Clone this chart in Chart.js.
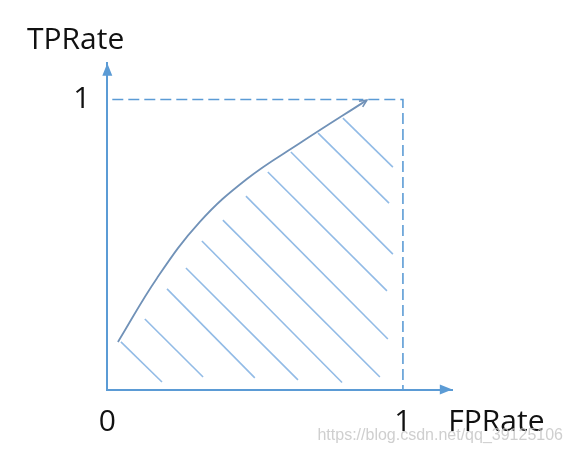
<!DOCTYPE html>
<html>
<head>
<meta charset="utf-8">
<script src="https://cdn.jsdelivr.net/npm/chart.js@4/dist/chart.umd.min.js"></script>
<style>
html, body { margin: 0; padding: 0; background: #ffffff; }
#wrap { width: 573px; height: 454px; position: relative; }
</style>
</head>
<body>
<div id="wrap"><canvas id="c"></canvas></div>
<script>
// ---- data ----
const X_TITLE = 'FPRate';
const Y_TITLE = 'TPRate';
const X_TICKS = [0, 1];
const X_TICK_LABELS = ['0', '1'];
const Y_TICKS = [1];
const Y_TICK_LABELS = ['1'];
const X_AXIS_END = 1.167;   // where the x arrow tip sits
const Y_AXIS_END = 1.125;   // where the y arrow tip sits

// ROC curve (FPRate, TPRate)
const CURVE_X = [0.036, 0.168, 0.313, 0.472, 0.652, 0.878];
const CURVE_Y = [0.164, 0.384, 0.578, 0.726, 0.850, 0.998];

// hatching under the curve (start / end of each stroke)
const HATCH_X0 = [0.046, 0.127, 0.202, 0.266, 0.320, 0.391, 0.469, 0.543, 0.621, 0.713, 0.797];
const HATCH_Y0 = [0.164, 0.243, 0.347, 0.419, 0.512, 0.584, 0.667, 0.750, 0.819, 0.884, 0.936];
const HATCH_X1 = [0.185, 0.324, 0.499, 0.645, 0.794, 0.922, 0.949, 0.946, 0.966, 0.953, 0.966];
const HATCH_Y1 = [0.026, 0.043, 0.040, 0.033, 0.024, 0.043, 0.174, 0.340, 0.467, 0.643, 0.767];

// dashed unit square boundary
const FRAME_X = [0, 1, 1];
const FRAME_Y = [1, 1, 0];

const WATERMARK = 'https://blog.csdn.net/qq_39125106';

// ---- styles ----
const AXIS_COLOR = '#5B9BD5';
const CURVE_COLOR = '#7192B8';
const HATCH_COLOR = '#92BBE6';
const TEXT_COLOR = '#111111';
const FONT = "'Open Sans', 'Noto Sans', sans-serif";

const pts = (xs, ys) => xs.map((x, i) => ({ x: x, y: ys[i] }));

const datasets = [];
HATCH_X0.forEach((_, i) => {
  datasets.push({
    data: [{ x: HATCH_X0[i], y: HATCH_Y0[i] }, { x: HATCH_X1[i], y: HATCH_Y1[i] }],
    borderColor: HATCH_COLOR, borderWidth: 1.6, pointRadius: 0, tension: 0
  });
});
datasets.push({
  data: pts(FRAME_X, FRAME_Y),
  borderColor: AXIS_COLOR, borderWidth: 1.6, borderDash: [11, 5], borderDashOffset: 11,
  pointRadius: 0, tension: 0
});
datasets.push({
  data: pts(CURVE_X, CURVE_Y),
  borderColor: CURVE_COLOR, borderWidth: 1.8, pointRadius: 0,
  tension: 0.4
});
const CURVE_INDEX = datasets.length - 1;

const decorations = {
  id: 'decorations',
  afterDatasetsDraw(chart) {
    const ctx = chart.ctx;
    const xs = chart.scales.x, ys = chart.scales.y;
    const ox = xs.getPixelForValue(0), oy = ys.getPixelForValue(0);
    const tx = xs.getPixelForValue(X_AXIS_END), ty = ys.getPixelForValue(Y_AXIS_END);
    ctx.save();
    ctx.fillStyle = AXIS_COLOR;
    // y arrow
    ctx.beginPath();
    ctx.moveTo(ox, ty);
    ctx.lineTo(ox - 5, ty + 12.5);
    ctx.lineTo(ox + 5, ty + 12.5);
    ctx.closePath();
    ctx.fill();
    // x arrow
    ctx.beginPath();
    ctx.moveTo(tx, oy);
    ctx.lineTo(tx - 12.5, oy - 5);
    ctx.lineTo(tx - 12.5, oy + 5);
    ctx.closePath();
    ctx.fill();
    // open arrowhead at the curve end
    const meta = chart.getDatasetMeta(CURVE_INDEX);
    const n = meta.data.length;
    const p1 = meta.data[n - 1], p0 = meta.data[n - 2];
    const ang = Math.atan2(p1.y - p0.y, p1.x - p0.x);
    ctx.strokeStyle = CURVE_COLOR;
    ctx.lineWidth = 1.6;
    ctx.beginPath();
    ctx.moveTo(p1.x - 8 * Math.cos(ang - 0.45), p1.y - 8 * Math.sin(ang - 0.45));
    ctx.lineTo(p1.x, p1.y);
    ctx.lineTo(p1.x - 8 * Math.cos(ang + 0.45), p1.y - 8 * Math.sin(ang + 0.45));
    ctx.stroke();
    // x axis name
    ctx.fillStyle = TEXT_COLOR;
    ctx.font = '30px ' + FONT;
    ctx.textAlign = 'left';
    ctx.textBaseline = 'middle';
    ctx.fillText(X_TITLE, tx - 4, oy + 33);
    // watermark
    ctx.fillStyle = 'rgba(195,195,195,0.8)';
    ctx.font = "16px 'Liberation Sans', Arial, sans-serif";
    ctx.textAlign = 'right';
    ctx.fillText(WATERMARK, 563, 436);
    ctx.restore();
  }
};

new Chart(document.getElementById('c'), {
  type: 'line',
  data: { datasets: datasets },
  plugins: [decorations],
  options: {
    responsive: true,
    maintainAspectRatio: false,
    animation: false,
    events: [],
    layout: { padding: { top: 0, left: 27, right: 120.7, bottom: 0 } },
    plugins: {
      legend: { display: false },
      tooltip: { enabled: false },
      title: {
        display: true, text: Y_TITLE, align: 'start', color: TEXT_COLOR,
        font: { family: FONT, size: 30, weight: 'normal', lineHeight: 1.2 },
        padding: { top: 22, bottom: 5.3 }
      }
    },
    scales: {
      x: {
        type: 'linear', min: 0, max: X_AXIS_END, bounds: 'data',
        grid: { display: false, drawTicks: false },
        border: { display: true, color: AXIS_COLOR, width: 2 },
        afterBuildTicks: s => { s.ticks = X_TICKS.map(v => ({ value: v })); },
        afterFit: s => { s.height = 64.5; },
        ticks: {
          autoSkip: false, maxRotation: 0, padding: 14.5, color: TEXT_COLOR,
          font: { family: FONT, size: 30 },
          callback: (v, i) => X_TICK_LABELS[i]
        }
      },
      y: {
        type: 'linear', min: 0, max: Y_AXIS_END, bounds: 'data',
        grid: { display: false, drawTicks: false },
        border: { display: true, color: AXIS_COLOR, width: 2 },
        afterBuildTicks: s => { s.ticks = Y_TICKS.map(v => ({ value: v })); },
        afterFit: s => { s.width = 80.3; },
        ticks: {
          autoSkip: false, padding: 17, color: TEXT_COLOR,
          font: { family: FONT, size: 30 },
          callback: (v, i) => Y_TICK_LABELS[i]
        }
      }
    }
  }
});
</script>
</body>
</html>
